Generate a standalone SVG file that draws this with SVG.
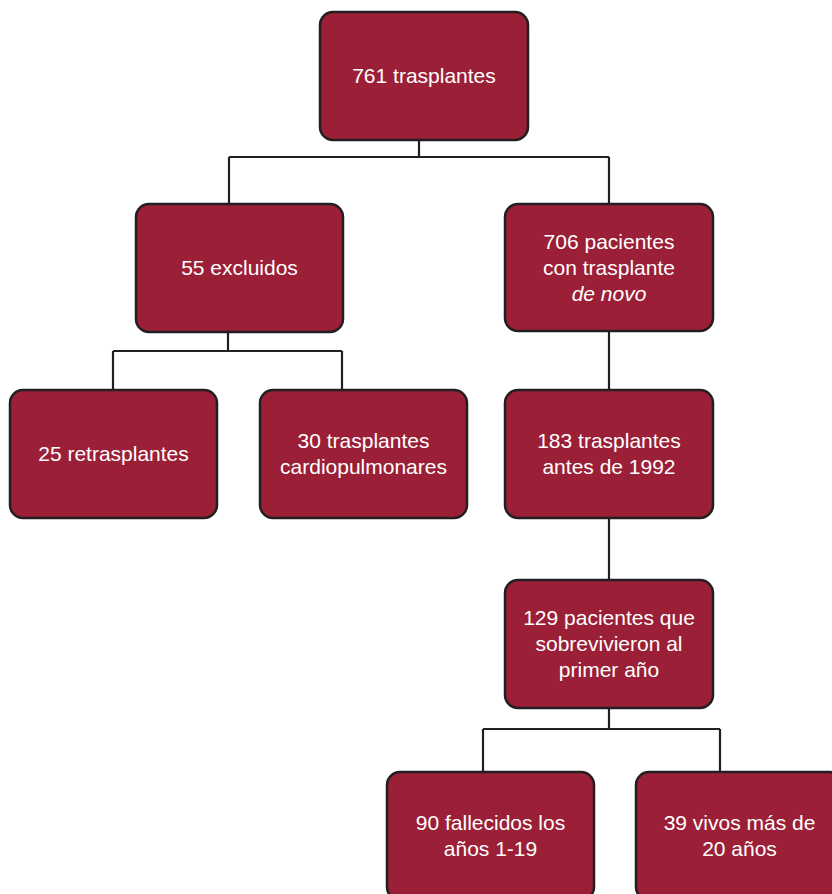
<svg xmlns="http://www.w3.org/2000/svg" width="832" height="894" viewBox="0 0 832 894">
<style>
.box{fill:#9b2037;stroke:#231f20;stroke-width:2.5}
.t{font-family:"Liberation Sans",Arial,sans-serif;font-size:21px;fill:#ffffff;text-anchor:middle}
.c{fill:none;stroke:#231f20;stroke-width:2.2}
</style>
<rect width="832" height="894" fill="#ffffff"/>
<g id="connectors">
<path class="c" d="M419 140V157M229 157H609M229 157V204M609 157V204"/>
<path class="c" d="M228 332V351M113 351H342M113 351V390M342 351V390"/>
<path class="c" d="M609 331V390M609 518V580M609 708V729M483 729H720M483 729V772M720 729V772"/>
</g>
<g id="n1"><rect class="box" x="320" y="12" width="208" height="128" rx="13"/><text class="t" x="424" y="83">761 trasplantes</text></g>
<g id="n2"><rect class="box" x="136" y="204" width="207" height="128" rx="13"/><text class="t" x="239.5" y="275">55 excluidos</text></g>
<g id="n3"><rect class="box" x="505" y="204" width="208" height="127" rx="13"/><text class="t" x="609" y="249">706 pacientes</text><text class="t" x="609" y="275">con trasplante</text><text class="t" x="609" y="301" font-style="italic">de novo</text></g>
<g id="n4"><rect class="box" x="10" y="390" width="207" height="128" rx="13"/><text class="t" x="113.5" y="461">25 retrasplantes</text></g>
<g id="n5"><rect class="box" x="260" y="390" width="207" height="128" rx="13"/><text class="t" x="363.5" y="448">30 trasplantes</text><text class="t" x="363.5" y="474">cardiopulmonares</text></g>
<g id="n6"><rect class="box" x="505" y="390" width="208" height="128" rx="13"/><text class="t" x="609" y="448">183 trasplantes</text><text class="t" x="609" y="474">antes de 1992</text></g>
<g id="n7"><rect class="box" x="505" y="580" width="208" height="128" rx="13"/><text class="t" x="609" y="625">129 pacientes que</text><text class="t" x="609" y="651">sobrevivieron al</text><text class="t" x="609" y="677">primer año</text></g>
<g id="n8"><rect class="box" x="387" y="772" width="207" height="128" rx="13"/><text class="t" x="490.5" y="830">90 fallecidos los</text><text class="t" x="490.5" y="856">años 1-19</text></g>
<g id="n9"><rect class="box" x="636" y="772" width="207" height="128" rx="13"/><text class="t" x="739.5" y="830">39 vivos más de</text><text class="t" x="739.5" y="856">20 años</text></g>
</svg>
